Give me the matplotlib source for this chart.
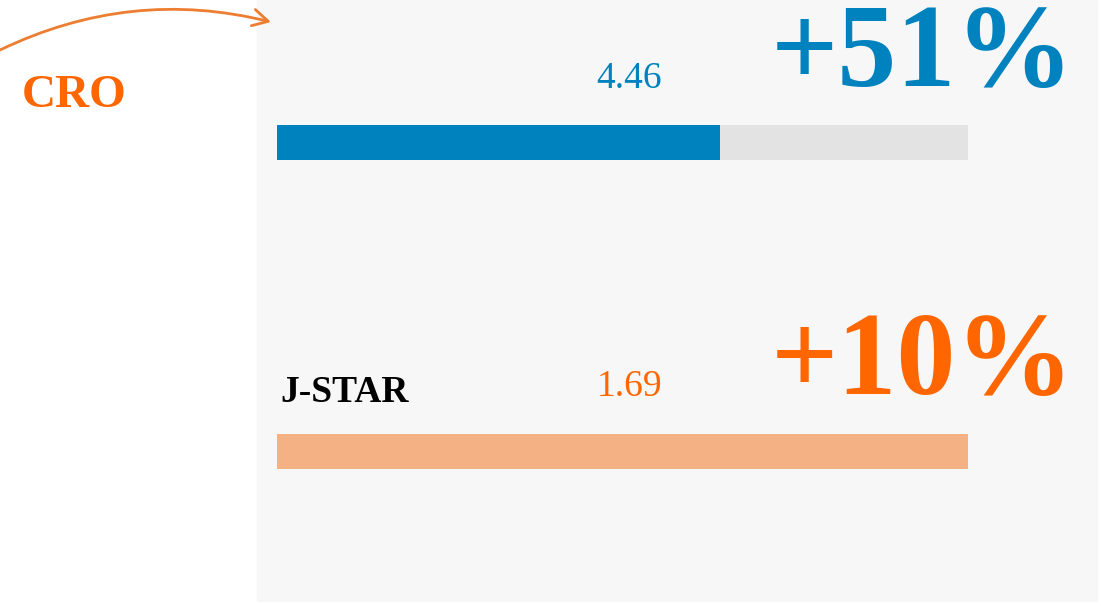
import matplotlib.pyplot as plt
from matplotlib.patches import Rectangle, FancyArrowPatch

# data
labels = ['', 'J-STAR']
values = [4.46, 1.69]
fill_frac = [0.641, 1.0]
pct_labels = ['+51%', '+10%']
text_colors = ['#0082BF', '#FF6600']
bar_colors = ['#0082BF', '#F4B183']
side_label = 'CRO'

W, H = 1101, 606
fig = plt.figure(figsize=(W / 100, H / 100), dpi=100)
fig.patch.set_facecolor('white')

# overlay axes in pixel coords (y down)
ax = fig.add_axes([0, 0, 1, 1])
ax.set_xlim(0, W)
ax.set_ylim(H, 0)
ax.axis('off')
ax.add_patch(Rectangle((257, 0), 840, 601, color='#F7F7F7', zorder=0))

# bars axis: 0..1 fraction maps to x 277..968, rows at y 142.5 and 451.5
bx = fig.add_axes([0, 0, 1, 1])
bx.patch.set_alpha(0)
x0, x1 = 277, 968
bx.set_xlim(-x0 / (x1 - x0), (W - x0) / (x1 - x0))
y0, dy = 142.5, 309
bx.set_ylim((H - y0) / dy, -y0 / dy)
bx.axis('off')
rows = list(range(len(values)))
bh = 35 / dy
bx.barh(rows, [1.0] * len(rows), height=bh, color='#E3E3E3', zorder=1)
bx.barh(rows, fill_frac, height=bh, color=bar_colors, zorder=2)

for i in rows:
    yb = y0 + i * dy
    ax.text(662, yb - 55, f'{values[i]:.2f}', ha='right', va='baseline',
            family='Liberation Serif', fontsize=27, color=text_colors[i])
    ax.text(1074, yb - 57, pct_labels[i], ha='right', va='baseline',
            family='Liberation Serif', fontweight='bold', fontsize=85,
            color=text_colors[i])
    if labels[i]:
        ax.text(280, yb - 50, labels[i], ha='left', va='baseline',
                family='Liberation Serif', fontweight='bold', fontsize=27,
                color='black')

ax.text(22, 107, side_label, ha='left', va='baseline', family='Liberation Serif',
        fontweight='bold', fontsize=34, color='#FF6600')

arr = FancyArrowPatch((0, 50), (271, 22), connectionstyle='arc3,rad=-0.18',
                      arrowstyle='->,head_length=11,head_width=6',
                      color='#ED7D31', lw=2, zorder=5, shrinkA=0, shrinkB=0)
ax.add_patch(arr)

fig.savefig('out.png', dpi=100)
